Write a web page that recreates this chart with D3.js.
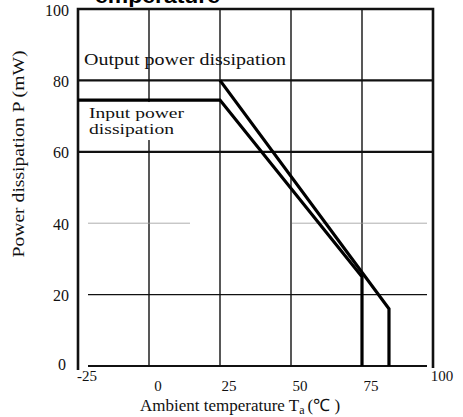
<!DOCTYPE html>
<html>
<head>
<meta charset="utf-8">
<script src="https://cdn.jsdelivr.net/npm/d3@7"></script>
<style>
  html, body { margin: 0; padding: 0; background: #fff; }
  svg { display: block; }
  .serif { font-family: "Liberation Serif", "Times New Roman", serif; fill: #111; }
</style>
</head>
<body>
<div id="chart"></div>
<script>
// values
var xTicks = [-25, 0, 25, 50, 75, 100];
var yTicks = [0, 20, 40, 60, 80, 100];
var inputTemp  = [-25, 25, 75, 75];
var inputPower = [74.5, 74.5, 25, 0];
var outputTemp  = [25, 84.5, 84.5];
var outputPower = [80, 16, 0];
var titleText = 'emperature';
var xTitle = 'Ambient temperature T';
var yTitle = 'Power dissipation P (mW)';

var width = 463, height = 417;

var svg = d3.select('#chart').append('svg')
    .attr('width', width)
    .attr('height', height);

var x = d3.scaleLinear().domain([-25, 100]).range([78, 433]);
var y = d3.scaleLinear().domain([0, 100]).range([366, 9]);

// heading, cut off by the top edge just as in the scan
svg.append('text')
    .attr('x', 95)
    .attr('y', 3)
    .attr('textLength', 125)
    .attr('lengthAdjust', 'spacingAndGlyphs')
    .style('font-family', '"Liberation Sans", Arial, sans-serif')
    .style('font-weight', 'bold')
    .style('font-size', '20px')
    .text(titleText);

var grid = svg.append('g');

// vertical grid lines (inner ticks only)
grid.selectAll('line.vgrid')
    .data(xTicks.slice(1, -1))
    .enter().append('line')
    .attr('class', 'vgrid')
    .attr('x1', function (d) { return x(d); })
    .attr('x2', function (d) { return x(d); })
    .attr('y1', y(100))
    .attr('y2', y(0))
    .style('stroke', '#111')
    .style('stroke-width', 1.4);

// horizontal grid lines - the scan has heavy 60/80 lines, thin 20, faint 40
grid.selectAll('line.hgrid')
    .data(yTicks.slice(0, -1))
    .enter().append('line')
    .attr('class', 'hgrid')
    .attr('x1', function (d) { return d >= 60 ? x(-25) : x(-25) + 10; })
    .attr('x2', function (d) { return d >= 60 ? x(100) : x(100) - 6; })
    .attr('y1', function (d) { return y(d); })
    .attr('y2', function (d) { return y(d); })
    .style('stroke', function (d) { return d === 40 ? '#999' : '#111'; })
    .style('stroke-width', function (d) {
        if (d >= 60) return 2.2;
        if (d === 0) return 1.8;
        return d === 40 ? 0.8 : 1.1;
    })
    .style('stroke-dasharray', function (d) { return d === 40 ? '102 102 400' : null; });

// frame: left, right, top
svg.append('polyline')
    .attr('points', [x(-25), y(0) + 4, x(-25), y(100), x(100), y(100), x(100), y(0) + 2].join(','))
    .style('fill', 'none')
    .style('stroke', '#111')
    .style('stroke-width', 2.6);

// white patch behind the input label (hides the 0 degree grid line there)
svg.append('rect')
    .attr('x', x(-25) + 2)
    .attr('y', y(74.5) + 2)
    .attr('width', x(25) - x(-25) - 4)
    .attr('height', 38)
    .style('fill', '#fff');

// derating curves
var line = d3.line()
    .x(function (d) { return x(d[0]); })
    .y(function (d) { return y(d[1]); });

var series = [
    d3.zip(inputTemp, inputPower),
    d3.zip(outputTemp, outputPower)
];

svg.selectAll('path.curve')
    .data(series)
    .enter().append('path')
    .attr('class', 'curve')
    .attr('d', line)
    .style('fill', 'none')
    .style('stroke', '#000')
    .style('stroke-width', 3.2)
    .style('stroke-linejoin', 'miter');

// curve labels
function label(txt, lx, ly, len, size) {
    svg.append('text')
        .attr('class', 'serif')
        .attr('x', lx)
        .attr('y', ly)
        .attr('textLength', len)
        .attr('lengthAdjust', 'spacingAndGlyphs')
        .style('font-size', size + 'px')
        .text(txt);
}
label('Output power dissipation', 84, 65, 202, 17);
label('Input power', 89, 118, 95, 14.5);
label('dissipation', 89, 134, 85, 14.5);

// y tick labels
svg.selectAll('text.ytick')
    .data(yTicks)
    .enter().append('text')
    .attr('class', 'serif ytick')
    .attr('x', function (d) { return d === 0 ? 66 : 69; })
    .attr('y', function (d) { return d === 0 ? y(d) - 2 : y(d) + 1; })
    .attr('dy', '0.35em')
    .attr('text-anchor', 'end')
    .style('font-size', '16px')
    .text(function (d) { return d; });

// x tick labels (end labels sit a little higher in the original)
svg.selectAll('text.xtick')
    .data(xTicks)
    .enter().append('text')
    .attr('class', 'serif xtick')
    .attr('x', function (d) { return x(d) + 9; })
    .attr('y', function (d) { return (d === -25 || d === 100) ? 381 : 391; })
    .attr('text-anchor', 'middle')
    .style('font-size', '15px')
    .text(function (d) { return d; });

// axis titles
var xt = svg.append('text')
    .attr('class', 'serif')
    .attr('x', 140)
    .attr('y', 411)
    .style('font-size', '17px');
xt.append('tspan').text(xTitle);
xt.append('tspan').attr('dy', 3).style('font-size', '12px').text('a');
xt.append('tspan').attr('dy', -3).attr('dx', 3).text('(\u2103  )');

svg.append('text')
    .attr('class', 'serif')
    .attr('transform', 'translate(24,154) rotate(-90)')
    .attr('text-anchor', 'middle')
    .attr('textLength', 207)
    .attr('lengthAdjust', 'spacingAndGlyphs')
    .style('font-size', '17px')
    .text(yTitle);
</script>
</body>
</html>
